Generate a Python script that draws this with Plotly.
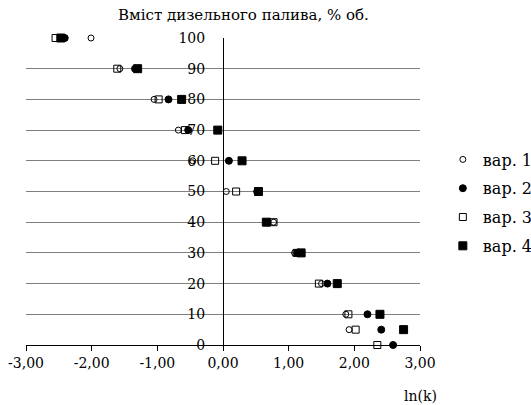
import plotly.graph_objects as go

# Diesel fuel content, % vol. (vertical axis)
content = [100, 90, 80, 70, 60, 50, 40, 30, 20, 10, 5, 0]

# ln(k) values for each variant
var1 = [-2.01, -1.57, -1.05, -0.68, -0.46, 0.05, 0.77, 1.09, 1.50, 1.87, 1.92, None]
var2 = [-2.41, -1.34, -0.83, -0.53, 0.09, 0.52, 0.68, 1.13, 1.59, 2.20, 2.41, 2.59]
var3 = [-2.55, -1.61, -0.98, -0.58, -0.12, 0.20, 0.77, 1.12, 1.46, 1.91, 2.02, 2.35]
var4 = [-2.47, -1.30, -0.63, -0.08, 0.29, 0.54, 0.66, 1.19, 1.74, 2.39, 2.75, 3.01]

names = ["вар. 1", "вар. 2", "вар. 3", "вар. 4"]
series = [var1, var2, var3, var4]
symbols = ["circle-open", "circle", "square-open", "square"]
sizes = [6, 7, 7, 8]

x_ticks = [-3, -2, -1, 0, 1, 2, 3]
x_labels = ["-3,00", "-2,00", "-1,00", "0,00", "1,00", "2,00", "3,00"]
y_ticks = [0, 10, 20, 30, 40, 50, 60, 70, 80, 90, 100]

SERIF = "DejaVu Serif"

fig = go.Figure()
for name, xs, sym, sz in zip(names, series, symbols, sizes):
    fig.add_trace(go.Scatter(
        x=xs, y=content, mode="markers", name=name, legendgroup=name,
        marker=dict(symbol=sym, size=sz, color="black",
                    line=dict(color="black", width=1)),
        cliponaxis=False,
    ))

fig.update_layout(
    width=531, height=405,
    margin=dict(l=26, r=111, t=38, b=60, autoexpand=False),
    plot_bgcolor="white", paper_bgcolor="white",
    font=dict(family=SERIF, size=14, color="black"),
    showlegend=True,
    legend=dict(x=1.058, xanchor="left", y=0.4625, yanchor="middle",
                font=dict(family=SERIF, size=16, color="black"),
                itemwidth=30, tracegroupgap=5, bgcolor="rgba(0,0,0,0)"),
    xaxis=dict(range=[-3, 3], tickvals=x_ticks, ticktext=x_labels,
               showgrid=False, zeroline=False,
               showline=True, linecolor="black", linewidth=1,
               ticks="outside", ticklen=5, tickcolor="black",
               tickfont=dict(family=SERIF, size=14)),
    yaxis=dict(range=[0, 100], tickvals=y_ticks,
               anchor="free", position=0.5,
               showgrid=True, gridcolor="#7f7f7f", gridwidth=1,
               zeroline=False, showline=True, linecolor="black", linewidth=1,
               ticks="", ticklabelstandoff=15,
               tickfont=dict(family=SERIF, size=14)),
    annotations=[
        dict(text="Вміст дизельного палива, % об.", xref="paper", yref="paper",
             x=0.553, y=1.0, yanchor="middle", yshift=23, showarrow=False,
             font=dict(family=SERIF, size=15)),
        dict(text="ln(k)", xref="x", yref="paper", x=3.0, y=0,
             yanchor="middle", yshift=-51, showarrow=False,
             font=dict(family=SERIF, size=14)),
    ],
)

fig.write_html("out.html")
